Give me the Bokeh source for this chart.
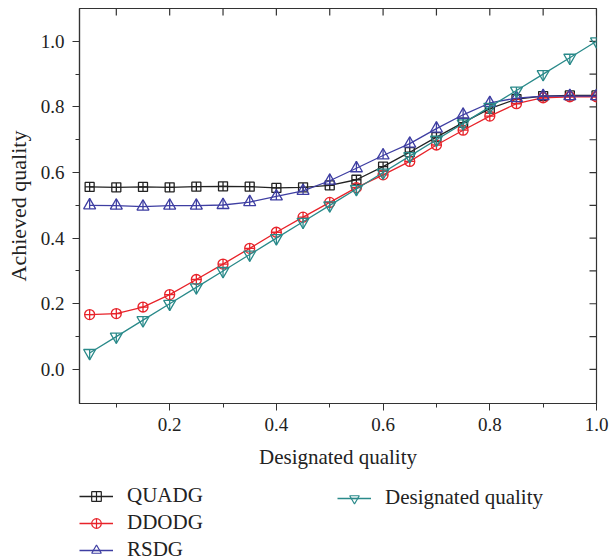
import math
from bokeh.plotting import figure
from bokeh.layouts import column
from bokeh.models import Range1d, Legend, LegendItem, FixedTicker, NumeralTickFormatter
from bokeh.embed import file_html
from bokeh.resources import INLINE

x = [0.05, 0.10, 0.15, 0.20, 0.25, 0.30, 0.35, 0.40, 0.45, 0.50,
     0.55, 0.60, 0.65, 0.70, 0.75, 0.80, 0.85, 0.90, 0.95, 1.00]
quadg = [0.556, 0.555, 0.556, 0.555, 0.557, 0.558, 0.557, 0.553, 0.555, 0.561,
         0.578, 0.618, 0.662, 0.708, 0.752, 0.795, 0.824, 0.833, 0.835, 0.835]
ddodg = [0.167, 0.170, 0.190, 0.228, 0.274, 0.321, 0.369, 0.418, 0.464, 0.509,
         0.554, 0.593, 0.634, 0.684, 0.729, 0.772, 0.810, 0.828, 0.831, 0.831]
rsdg = [0.500, 0.499, 0.496, 0.499, 0.499, 0.501, 0.510, 0.527, 0.544, 0.575,
        0.613, 0.652, 0.688, 0.734, 0.776, 0.812, 0.827, 0.833, 0.833, 0.833]
designated = [0.05, 0.10, 0.15, 0.20, 0.25, 0.30, 0.35, 0.40, 0.45, 0.50,
              0.55, 0.60, 0.65, 0.70, 0.75, 0.80, 0.85, 0.90, 0.95, 1.00]

labels = ["QUADG", "DDODG", "RSDG", "Designated quality"]

x_ticks = [0.2, 0.4, 0.6, 0.8, 1.0]
y_ticks = [0.0, 0.2, 0.4, 0.6, 0.8, 1.0]
fine_x_ticks = [0.1, 0.2, 0.3, 0.4, 0.5, 0.6, 0.7, 0.8, 0.9, 1.0]
fine_y_ticks = [0.0, 0.1, 0.2, 0.3, 0.4, 0.5, 0.6, 0.7, 0.8, 0.9, 1.0]

X_MIN, X_MAX = 0.031, 1.0
Y_MIN, Y_MAX = -0.104, 1.1

FONT = "Liberation Serif"
BLACK = "#222222"
RED = "#e8232a"
BLUE = "#3e3ea2"
TEAL = "#2a8a8a"
AX = "#333333"

p = figure(width=609, height=475, output_backend="svg", toolbar_location=None,
           x_range=Range1d(X_MIN, X_MAX), y_range=Range1d(Y_MIN, Y_MAX),
           min_border_left=79, min_border_right=13, min_border_top=8,
           min_border_bottom=72)
p.grid.visible = False
p.outline_line_color = AX
p.outline_line_width = 1.2
p.background_fill_color = "white"
p.border_fill_color = "white"

for ax in (p.xaxis[0], p.yaxis[0]):
    ax.axis_line_color = AX
    ax.axis_line_width = 1.2
    ax.major_tick_line_color = AX
    ax.minor_tick_line_color = AX
    ax.major_tick_in = 0
    ax.major_tick_out = 7
    ax.minor_tick_in = 0
    ax.minor_tick_out = 4
    ax.major_label_text_font = FONT
    ax.major_label_text_font_size = "19px"
    ax.major_label_text_color = "#222222"
    ax.axis_label_text_font = FONT
    ax.axis_label_text_font_style = "normal"
    ax.axis_label_text_color = "#222222"
    ax.formatter = NumeralTickFormatter(format="0.0")

p.xaxis[0].ticker = FixedTicker(ticks=x_ticks, minor_ticks=fine_x_ticks)
p.yaxis[0].ticker = FixedTicker(ticks=y_ticks, minor_ticks=fine_y_ticks)
p.xaxis[0].axis_label = "Designated quality"
p.yaxis[0].axis_label = "Achieved quality"
p.xaxis[0].axis_label_text_font_size = "21px"
p.yaxis[0].axis_label_text_font_size = "22px"
p.xaxis[0].major_label_standoff = 7
p.yaxis[0].major_label_standoff = 8
p.xaxis[0].axis_label_standoff = 11
p.yaxis[0].axis_label_standoff = 7

# mirrored inward ticks on top and right edges (dash markers clipped by the frame)
p.scatter(fine_x_ticks, [Y_MAX] * len(fine_x_ticks), marker="dash", angle=math.pi / 2,
          size=14, line_color=AX, line_width=1.2)
p.scatter([X_MAX] * len(fine_y_ticks), fine_y_ticks, marker="dash",
          size=14, line_color=AX, line_width=1.2)

LW = 1.3
px = (Y_MAX - Y_MIN) / 395.0   # data units per pixel (vertical)
tri_size = 12
tri_shift = tri_size / 2 * math.sqrt(3) / 6   # px

STYLES = [
    dict(color=BLACK, marker="square_cross", size=9, pin=0),
    dict(color=RED, marker="circle_cross", size=10, pin=0),
    dict(color=BLUE, marker="triangle", size=tri_size, pin=1),
    dict(color=TEAL, marker="inverted_triangle", size=tri_size, pin=-1),
]
series = [quadg, ddodg, rsdg, designated]

for ys, st in zip(series, STYLES):
    p.line(x, ys, line_color=st["color"], line_width=LW)
    p.scatter(x, ys, marker=st["marker"], size=st["size"], line_color=st["color"],
              fill_color=None, line_width=1.3)
    if st["pin"]:
        p.scatter(x, [v + st["pin"] * tri_shift * px for v in ys], marker="dash",
                  angle=math.pi / 2, size=st["size"] * 0.866, line_color=st["color"],
                  line_width=1.3)

# legend strip below the chart (proxy renderers lie outside this strip's ranges)
q = figure(width=609, height=85, output_backend="svg", toolbar_location=None,
           x_range=Range1d(5, 6), y_range=Range1d(5, 6),
           x_axis_location=None, y_axis_location=None,
           min_border_left=0, min_border_right=0, min_border_top=0, min_border_bottom=0)
q.grid.visible = False
q.outline_line_color = None
q.background_fill_color = "white"
q.border_fill_color = "white"

items = []
for lab, ys, st in zip(labels, series, STYLES):
    rs = [q.line(x, ys, line_color=st["color"], line_width=LW),
          q.scatter(x, ys, marker=st["marker"], line_color=st["color"],
                    fill_color=None, line_width=1.2)]
    if st["pin"]:
        rs.append(q.scatter(x, ys, marker="dash", angle=math.pi / 2,
                            line_color=st["color"], line_width=1.2))
    items.append(LegendItem(label=lab, renderers=rs))


def make_legend(its, loc):
    lg = Legend(items=its, location=loc, orientation="vertical")
    lg.border_line_color = None
    lg.background_fill_alpha = 0
    lg.padding = 0
    lg.margin = 0
    lg.spacing = 2
    lg.glyph_width = 34
    lg.glyph_height = 24
    lg.label_height = 24
    lg.label_standoff = 14
    lg.label_text_font = FONT
    lg.label_text_font_size = "21px"
    lg.label_text_color = "#222222"
    lg.label_text_baseline = "middle"
    return lg


q.add_layout(make_legend(items[:3], (0, -2)))
q.add_layout(make_legend(items[3:], (258, 50)))

open("out.html", "w").write(file_html(column(p, q), INLINE))
